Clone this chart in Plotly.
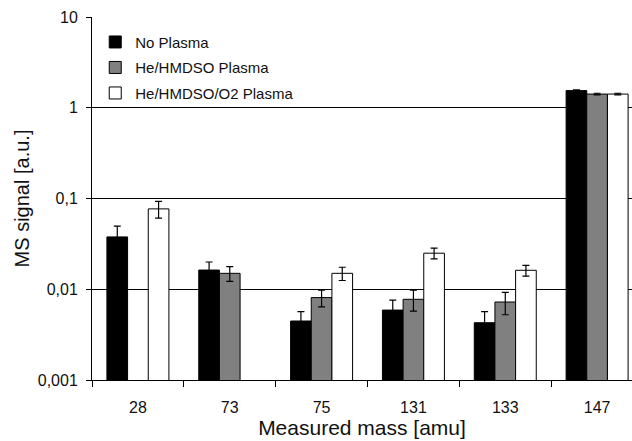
import plotly.graph_objects as go

categories = ["28", "73", "75", "131", "133", "147"]
no_plasma = [0.0378, 0.0163, 0.00447, 0.0059, 0.00428, 1.55]
no_plasma_err = [0.012, 0.0037, 0.0012, 0.0017, 0.0014, 0.03]
hmdso = [None, 0.0150, 0.0081, 0.00776, 0.00724, 1.42]
hmdso_err = [None, 0.0028, 0.0017, 0.002, 0.002, 0.03]
hmdso_o2 = [0.077, None, 0.0150, 0.025, 0.0162, 1.42]
hmdso_o2_err = [0.016, None, 0.0025, 0.0034, 0.0022, 0.03]

ytick_vals = [0.001, 0.01, 0.1, 1, 10]
ytick_text = ["0,001", "0,01", "0,1", "1", "10"]

font_family = "Liberation Sans, Arial, sans-serif"

def bar(name, vals, errs, color, grp):
    return go.Bar(
        name=name, x=categories, y=vals, legendgroup=grp,
        marker=dict(color=color, line=dict(color="black", width=1)),
        error_y=dict(type="data", array=errs, visible=True, color="black",
                     thickness=1.2, width=3.5),
    )

fig = go.Figure([
    bar("No Plasma", no_plasma, no_plasma_err, "black", "a"),
    bar("He/HMDSO Plasma", hmdso, hmdso_err, "#808080", "b"),
    bar("He/HMDSO/O2 Plasma", hmdso_o2, hmdso_o2_err, "white", "c"),
])

fig.update_layout(
    width=632, height=441,
    margin=dict(l=92, r=0, t=17, b=61),
    paper_bgcolor="white", plot_bgcolor="white",
    barmode="group", bargap=0.325, bargroupgap=0,
    font=dict(family=font_family, size=15, color="#111"),
    legend=dict(x=0.006, y=0.976, xanchor="left", yanchor="top",
                bgcolor="rgba(0,0,0,0)", font=dict(size=15),
                tracegroupgap=3, itemwidth=30),
    showlegend=True,
)
fig.update_xaxes(
    type="category", range=[-0.5, 5.38],
    showline=True, linecolor="black", linewidth=1,
    ticks="outside", tickson="boundaries", ticklen=6, tickcolor="black",
    ticklabelstandoff=13, tickfont=dict(size=16),
    title=dict(text="Measured mass [amu]", font=dict(size=21), standoff=5),
    showgrid=False, automargin=False,
)
fig.update_yaxes(
    type="log", range=[-3, 1.002],
    tickvals=ytick_vals, ticktext=ytick_text,
    showline=True, linecolor="black", linewidth=1,
    ticks="outside", ticklen=5, tickcolor="black",
    showgrid=True, gridcolor="black", gridwidth=1,
    ticklabelstandoff=5, tickfont=dict(size=16),
    title=dict(text="MS signal [a.u.]", font=dict(size=20), standoff=2),
    zeroline=False, automargin=False,
)

fig.write_html(
    "out.html",
    config={"displayModeBar": False},
    post_script="document.body.style.margin='0';document.body.style.overflow='hidden';",
)
